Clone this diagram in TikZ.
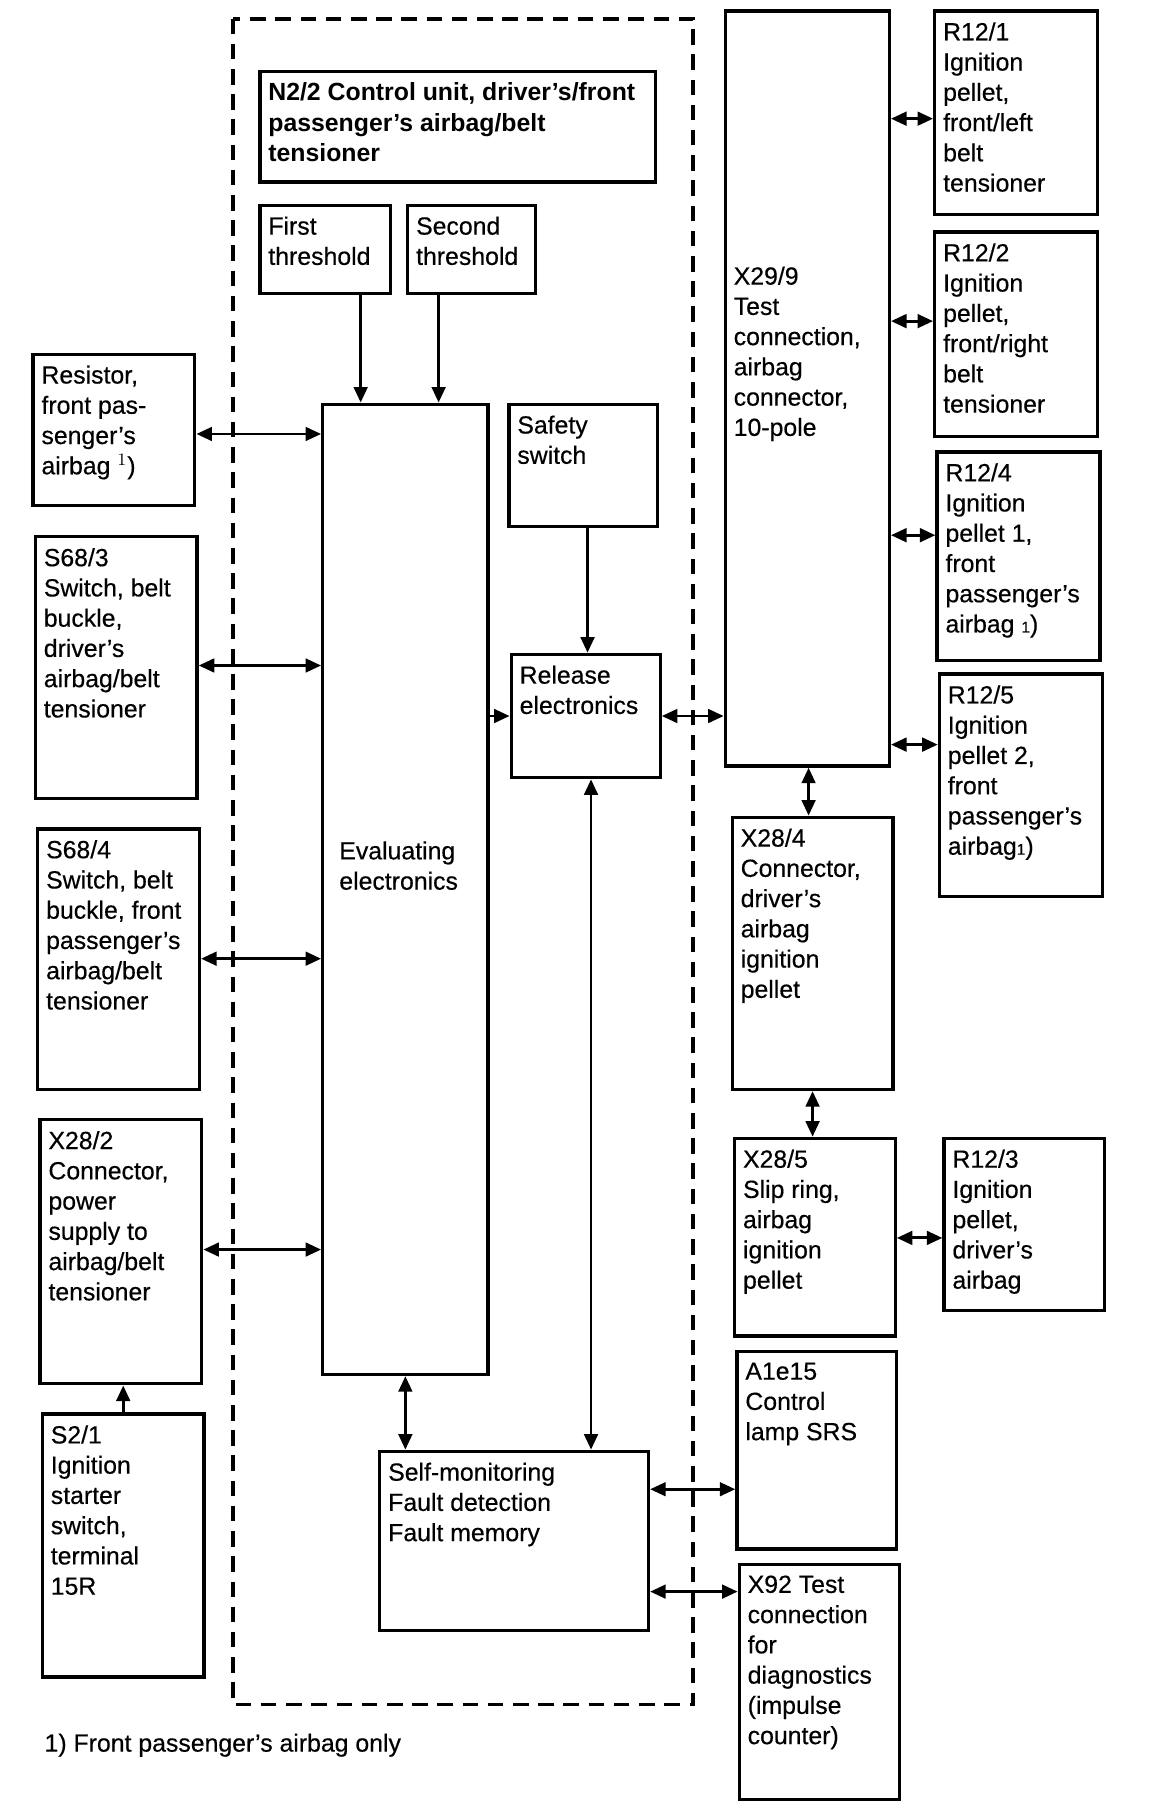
\documentclass[tikz,border=0pt]{standalone}
\usepackage{fontspec}
\setmainfont{Liberation Sans}[UprightFeatures = {FakeBold = 0.4}]
\usetikzlibrary{arrows.meta}

\tikzset{
	blk/.style = {draw, line width = 1.7pt, rectangle, inner sep = 0pt},
	lbl/.style = {anchor = north west, align = left, inner xsep = 5pt, inner ysep = 6.5pt,
		font = \fontsize{12.8}{15.6}\selectfont},
	dbl/.style = {{Triangle[length=8pt,width=7pt]}-{Triangle[length=8pt,width=7pt]}, line width = 1.5pt},
	sgl/.style = {-{Triangle[length=8pt,width=7pt]}, line width = 1.5pt},
	frame/.style = {line width = 2pt, dash pattern = on 8pt off 5pt}
}

\newcommand{\blockat}[6]{%
	\node[blk, anchor = north west, minimum width = {(#4-#2)*0.6pt}, minimum height = {(#5-#3)*0.6pt},
		label = {[lbl]north west:{#6}}] (#1) at (#2,#3) {};}

\begin{document}
\begin{tikzpicture}[x = 0.6pt, y = -0.6pt]
	
	\useasboundingbox (0,0) rectangle (990,1554);
	
	\draw[frame] (200,16) rectangle (596,1465);
	
	\blockat{title}{222}{60}{562}{155}{\bfseries N2/2 Control unit, driver's/front\\\bfseries passenger's airbag/belt\\\bfseries tensioner}
	\blockat{thone}{222}{175}{334}{251}{First\\threshold}
	\blockat{thtwo}{349}{175}{459}{251}{Second\\threshold}
	\blockat{safety}{436}{346}{564}{451}{Safety\\switch}
	\blockat{release}{438}{561}{566}{667}{Release\\electronics}
	\blockat{selfmon}{325}{1246}{556}{1400}{Self-monitoring\\Fault detection\\Fault memory}
	\blockat{eval}{276}{346}{418}{1180}{}
	\node[lbl, anchor = west, inner ysep = 0pt] (evaltxt) at (283,744) {Evaluating\\electronics};
	
	\blockat{res}{27}{303}{166}{433}{Resistor,\\front pas-\\senger's\\airbag $^{1}$)}
	\blockat{sbeltd}{29}{460}{168}{685}{S68/3\\Switch, belt\\buckle,\\driver's\\airbag/belt\\tensioner}
	\blockat{sbeltp}{31}{711}{170}{935}{S68/4\\Switch, belt\\buckle, front\\passenger's\\airbag/belt\\tensioner}
	\blockat{xpower}{33}{961}{172}{1188}{X28/2\\Connector,\\power\\supply to\\airbag/belt\\tensioner}
	\blockat{ignsw}{35}{1214}{174}{1440}{S2/1\\Ignition\\starter\\switch,\\terminal\\15R}
	
	\blockat{xtest}{622}{8}{763}{657}{}
	\node[lbl] (xtesttxt) at (xtest.north west |- 0,218) {X29/9\\Test\\connection,\\airbag\\connector,\\10-pole};
	\blockat{rfl}{802}{8}{942}{183}{R12/1\\Ignition\\pellet,\\front/left\\belt\\tensioner}
	\blockat{rfr}{802}{198}{942}{374}{R12/2\\Ignition\\pellet,\\front/right\\belt\\tensioner}
	\blockat{rpone}{804}{387}{944}{566}{R12/4\\Ignition\\pellet 1,\\front\\passenger's\\airbag {\footnotesize 1})}
	\blockat{rptwo}{806}{578}{946}{769}{R12/5\\Ignition\\pellet 2,\\front\\passenger's\\airbag{\footnotesize 1})}
	\blockat{xdrv}{628}{701}{766}{935}{X28/4\\Connector,\\driver's\\airbag\\ignition\\pellet}
	\blockat{xslip}{630}{977}{768}{1147}{X28/5\\Slip ring,\\airbag\\ignition\\pellet}
	\blockat{rdrv}{810}{977}{948}{1125}{R12/3\\Ignition\\pellet,\\driver's\\airbag}
	\blockat{lamp}{632}{1160}{769}{1330}{A1e15\\Control\\lamp SRS}
	\blockat{xdiag}{634}{1343}{772}{1545}{X92 Test\\connection\\for\\diagnostics\\(impulse\\counter)}
	
	\node[lbl, anchor = west, inner sep = 0pt] (note) at (38,1500) {1) Front passenger's airbag only};
	
	\draw[sgl] (thone.south -| 310,0) -- (eval.north -| 310,0);
	\draw[sgl] (thtwo.south -| 377,0) -- (eval.north -| 377,0);
	\draw[sgl] (safety.south -| 505,0) -- (release.north -| 505,0);
	\draw[sgl] (eval.east |- release.west) -- (release.west);
	\draw[dbl] (release.east) -- (release.east -| xtest.west);
	\draw[dbl] (release.south -| 508,0) -- (selfmon.north -| 508,0);
	\draw[dbl] (eval.south) -- (eval.south |- selfmon.north);
	\draw[dbl] (selfmon.east |- 0,1280) -- (lamp.west |- 0,1280);
	\draw[dbl] (selfmon.east |- 0,1368) -- (xdiag.west |- 0,1368);
	
	\draw[dbl] (res.east |- 0,373) -- (eval.west |- 0,373);
	\draw[dbl] (sbeltd.east |- 0,572) -- (eval.west |- 0,572);
	\draw[dbl] (sbeltp.east |- 0,824) -- (eval.west |- 0,824);
	\draw[dbl] (xpower.east |- 0,1074) -- (eval.west |- 0,1074);
	\draw[sgl] (ignsw.north) -- (ignsw.north |- xpower.south);
	
	\draw[dbl] (xtest.east |- 0,102) -- (rfl.west |- 0,102);
	\draw[dbl] (xtest.east |- 0,276) -- (rfr.west |- 0,276);
	\draw[dbl] (xtest.east |- 0,460) -- (rpone.west |- 0,460);
	\draw[dbl] (xtest.east |- 0,640) -- (rptwo.west |- 0,640);
	\draw[dbl] (xtest.south -| 695,0) -- (xdrv.north -| 695,0);
	\draw[dbl] (xdrv.south) -- (xdrv.south |- xslip.north);
	\draw[dbl] (xslip.east |- 0,1064) -- (rdrv.west |- 0,1064);
	
\end{tikzpicture}
\end{document}
